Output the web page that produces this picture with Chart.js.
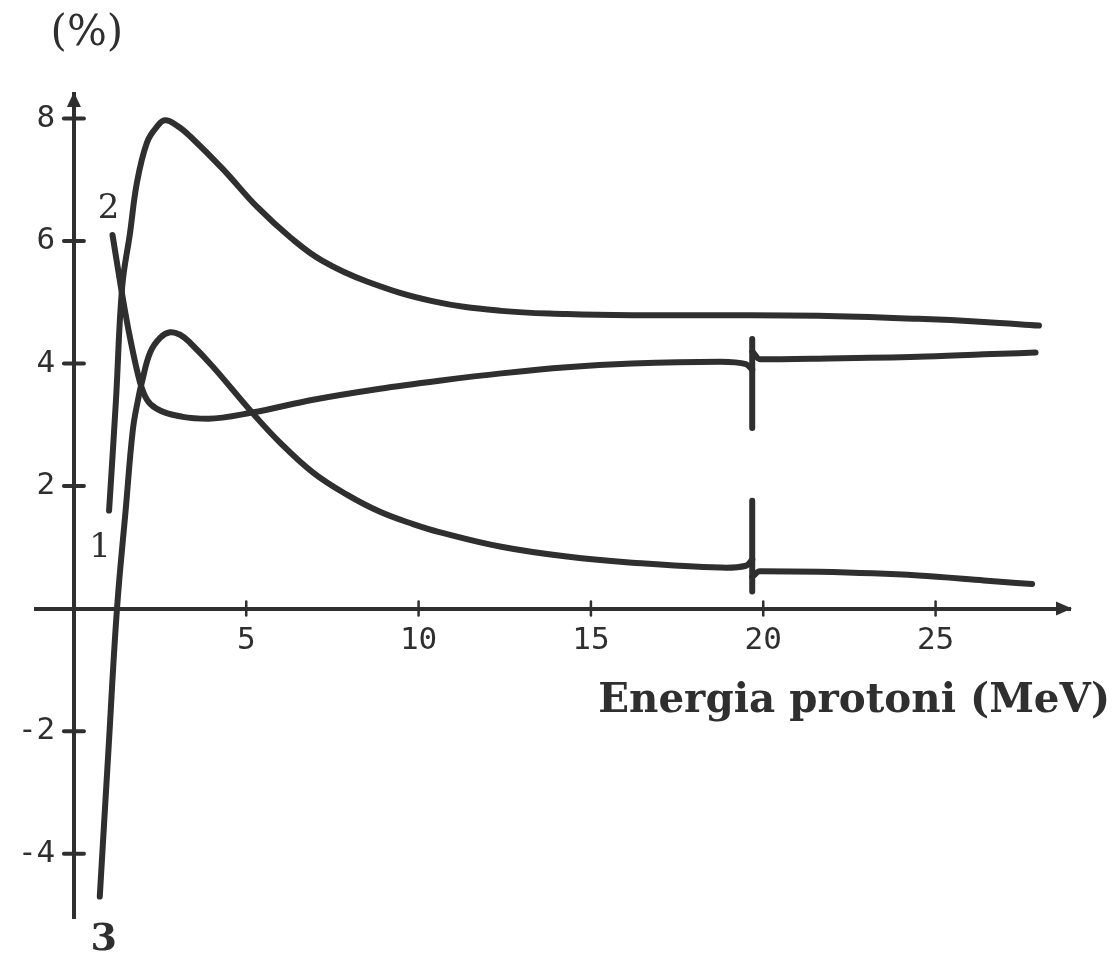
<!DOCTYPE html>
<html>
<head>
<meta charset="utf-8">
<script src="https://cdn.jsdelivr.net/npm/chart.js@4.4.1/dist/chart.umd.min.js"></script>
<style>
  html, body { margin: 0; padding: 0; background: #ffffff; }
  canvas { display: block; }
</style>
</head>
<body>
<canvas id="c" width="1116" height="958"></canvas>
<script>
// ---------------- data ----------------
const xTickValues = [5, 10, 15, 20, 25];
const yTickValues = [-4, -2, 2, 4, 6, 8];
const curveNames = ['1', '2', '3'];
const xTitle = 'Energia protoni (MeV)';
const yTitle = '(%)';

// curve 1 (upper curve)
const energy1  = [1.02, 1.22, 1.40, 1.63, 1.83, 2.12, 2.40, 2.64, 3.00, 3.37, 4.33, 5.31, 6.30, 7.20, 8.50, 10.4, 12.4, 14.3, 16.2, 18.8, 21.6, 24.5, 26.4, 28.0];
const percent1 = [1.60, 3.40, 5.25, 6.14, 6.96, 7.61, 7.86, 7.97, 7.88, 7.71, 7.17, 6.56, 6.05, 5.68, 5.34, 5.02, 4.86, 4.81, 4.79, 4.79, 4.78, 4.73, 4.68, 4.62];

// curve 2 (middle curve), before and after the step near 19.7 MeV
const energy2  = [1.12, 1.36, 1.60, 1.92, 2.12, 2.41, 3.16, 3.90, 5.17, 6.94, 8.88, 10.6, 12.4, 14.3, 16.2, 18.75, 19.5, 19.68];
const percent2 = [6.10, 5.26, 4.50, 3.69, 3.41, 3.26, 3.13, 3.10, 3.20, 3.41, 3.59, 3.72, 3.84, 3.94, 4.00, 4.03, 3.99, 3.90];
const energy2Tail  = [19.68, 19.9, 21.6, 24.5, 26.4, 27.9];
const percent2Tail = [4.20, 4.07, 4.08, 4.11, 4.15, 4.18];

// curve 3 (lower curve), before and after the step near 19.7 MeV
const energy3  = [0.75, 1.00, 1.25, 1.50, 1.71, 1.86, 1.97, 2.21, 2.50, 2.79, 3.08, 3.37, 4.03, 5.17, 5.98, 6.94, 7.92, 8.88, 9.84, 10.6, 12.4, 14.3, 16.2, 18.75, 19.5, 19.68];
const percent3 = [-4.70, -2.33, 0.00, 1.60, 2.92, 3.41, 3.69, 4.18, 4.42, 4.51, 4.47, 4.34, 3.95, 3.20, 2.71, 2.22, 1.86, 1.58, 1.38, 1.25, 1.01, 0.85, 0.75, 0.67, 0.70, 0.80];
const energy3Tail  = [19.68, 19.9, 21.6, 24.5, 26.4, 27.8];
const percent3Tail = [0.52, 0.61, 0.60, 0.54, 0.46, 0.40];

// vertical steps at the threshold energy
const stepEnergy = 19.68;
const step2 = [4.40, 2.95];
const step3 = [1.76, 0.28];

// axis extents
const xMin = -1.1, xMax = 28.9;
const yMin = -5.05, yMax = 8.4;

// ---------------- styling ----------------
const ink = '#2f2f2f';
const pts = (xs, ys) => xs.map((x, i) => ({ x: x, y: ys[i] }));

// mode: 'spline' (smooth curve through the points), 'monotone', or 'straight'
function curve(data, mode) {
  return {
    data: data,
    borderColor: ink,
    backgroundColor: ink,
    borderWidth: 6,
    borderCapStyle: 'round',
    borderJoinStyle: 'round',
    pointRadius: 0,
    pointHoverRadius: 0,
    fill: false,
    tension: mode === 'spline' ? 0.4 : 0,
    cubicInterpolationMode: mode === 'monotone' ? 'monotone' : 'default'
  };
}

const datasets = [
  curve(pts(energy1, percent1), 'spline'),
  curve(pts(energy2, percent2), 'monotone'),
  curve(pts(energy3, percent3), 'spline'),
  curve(pts([stepEnergy, stepEnergy], step2), 'straight'),
  curve(pts(energy2Tail, percent2Tail), 'monotone'),
  curve(pts([stepEnergy, stepEnergy], step3), 'straight'),
  curve(pts(energy3Tail, percent3Tail), 'monotone')
];

const decor = {
  id: 'decor',
  afterDraw(chart) {
    const { ctx, chartArea, scales } = chart;
    const xs = scales.x, ys = scales.y;
    const x0 = xs.getPixelForValue(0);
    const y0 = ys.getPixelForValue(0);
    ctx.save();
    ctx.strokeStyle = ink;
    ctx.fillStyle = ink;
    ctx.lineCap = 'round';
    const seg = (a, b, c, d) => { ctx.beginPath(); ctx.moveTo(a, b); ctx.lineTo(c, d); ctx.stroke(); };

    // tick marks crossing the axes
    ctx.lineWidth = 4;
    ys.ticks.forEach(t => { const p = ys.getPixelForValue(t.value); seg(x0 - 10, p, x0 + 10, p); });
    ctx.lineWidth = 2.5;
    xs.ticks.forEach(t => { const p = xs.getPixelForValue(t.value); seg(p, y0 - 7, p, y0 + 7); });

    // arrow heads
    ctx.beginPath();
    ctx.moveTo(x0, chartArea.top - 2);
    ctx.lineTo(x0 - 7, chartArea.top + 13);
    ctx.lineTo(x0 + 7, chartArea.top + 13);
    ctx.closePath(); ctx.fill();
    ctx.beginPath();
    ctx.moveTo(chartArea.right + 2, y0);
    ctx.lineTo(chartArea.right - 14, y0 - 7);
    ctx.lineTo(chartArea.right - 14, y0 + 7);
    ctx.closePath(); ctx.fill();

    // axis titles
    ctx.textBaseline = 'middle';
    ctx.textAlign = 'center';
    ctx.font = '42px "DejaVu Serif"';
    ctx.fillText(yTitle, x0 + 13, chartArea.top - 60);

    ctx.font = 'bold 40px "DejaVu Serif"';
    const w = ctx.measureText(xTitle).width;
    const size = 40 * 512 / w;
    ctx.font = 'bold ' + size.toFixed(1) + 'px "DejaVu Serif"';
    ctx.textAlign = 'right';
    ctx.textBaseline = 'alphabetic';
    ctx.fillText(xTitle, chartArea.right + 40, y0 + 103);

    // curve labels next to the start of each curve
    const offsets = [[-9, 38], [-4, -26], [4, 44]];
    const fonts = ['34px "DejaVu Serif"', '34px "DejaVu Serif"', 'bold 38px "DejaVu Serif"'];
    ctx.textAlign = 'center';
    ctx.textBaseline = 'middle';
    curveNames.forEach((name, i) => {
      const el = chart.getDatasetMeta(i).data[0];
      ctx.font = fonts[i];
      ctx.fillText(name, el.x + offsets[i][0], el.y + offsets[i][1]);
    });
    ctx.restore();
  }
};

const tickFont = { family: '"DejaVu Sans Mono", monospace', size: 31 };

new Chart(document.getElementById('c'), {
  type: 'line',
  data: { datasets: datasets },
  options: {
    responsive: false,
    animation: false,
    devicePixelRatio: 1,
    layout: { padding: { left: 36, right: 46, top: 94, bottom: 40 } },
    plugins: { legend: { display: false }, tooltip: { enabled: false }, title: { display: false } },
    events: [],
    scales: {
      x: {
        type: 'linear',
        min: xMin, max: xMax,
        position: { y: 0 },
        border: { display: true, color: ink, width: 4 },
        grid: { display: false, drawTicks: false },
        ticks: { color: ink, font: tickFont, padding: 14, maxRotation: 0, autoSkip: false },
        afterBuildTicks: s => { s.ticks = xTickValues.map(v => ({ value: v })); },
        afterFit: s => { s.height = 0; }
      },
      y: {
        type: 'linear',
        min: yMin, max: yMax,
        position: { x: 0 },
        border: { display: true, color: ink, width: 4 },
        grid: { display: false, drawTicks: false },
        ticks: { color: ink, font: tickFont, autoSkip: false, callback: v => v + ' ' },
        afterBuildTicks: s => { s.ticks = yTickValues.map(v => ({ value: v })); },
        afterFit: s => { s.width = 0; }
      }
    }
  },
  plugins: [decor]
});
</script>
</body>
</html>
